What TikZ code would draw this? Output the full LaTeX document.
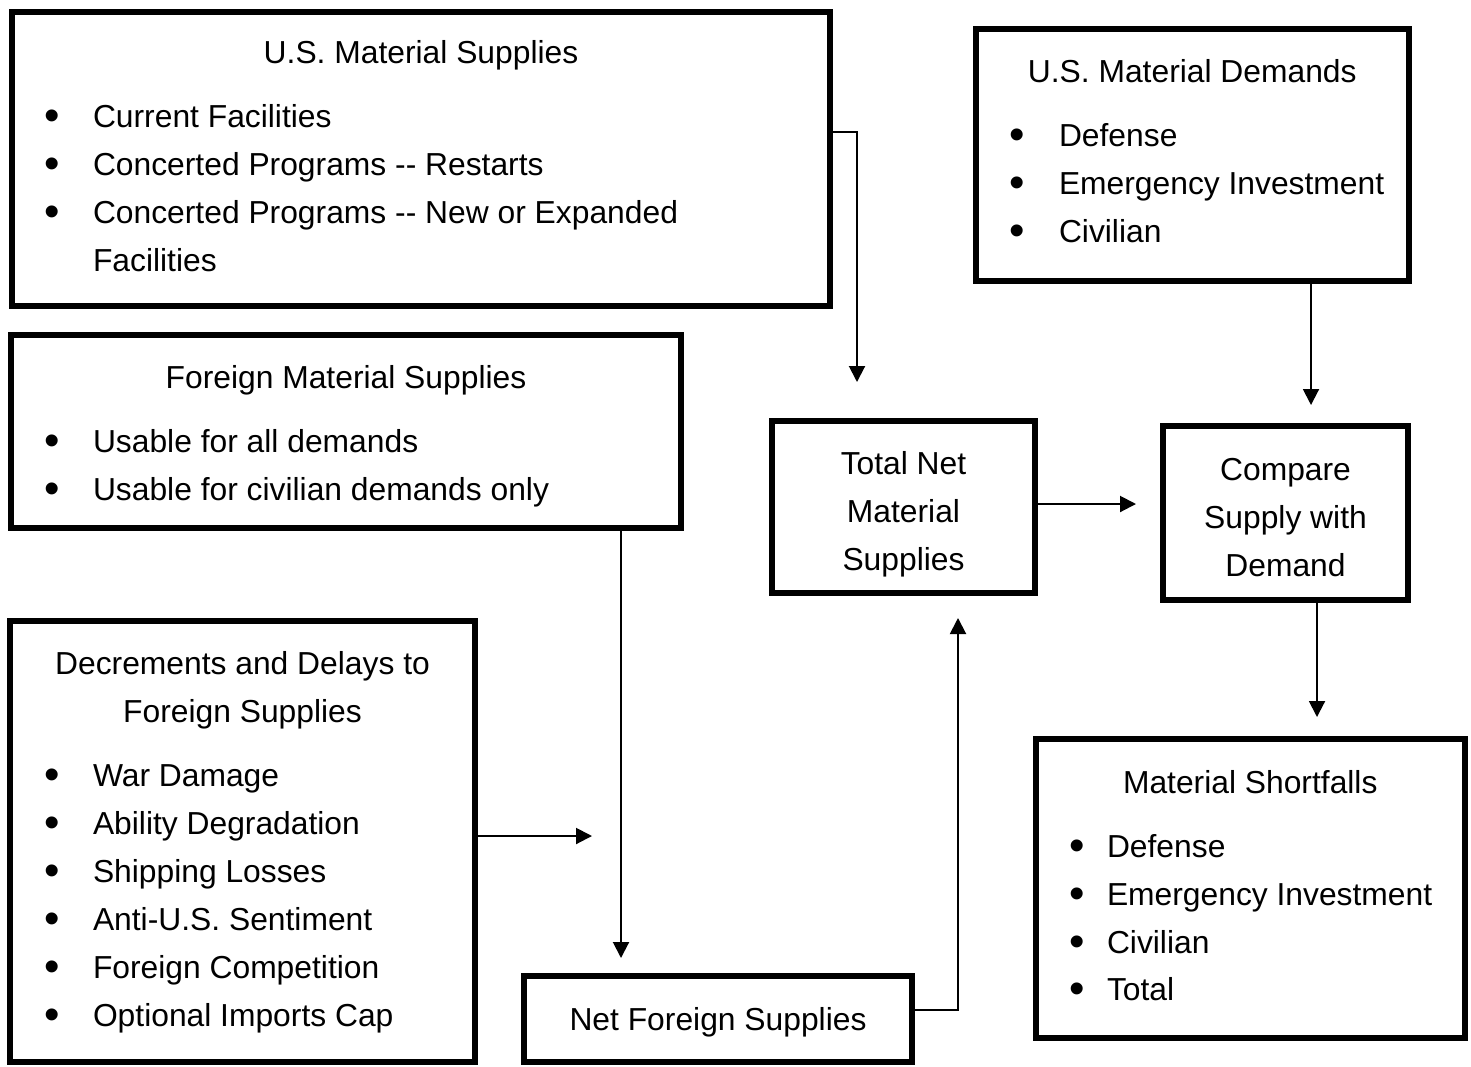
\documentclass[tikz,border=0pt]{standalone}
\usepackage{fontspec}
\setmainfont{Liberation Sans}
\usetikzlibrary{arrows.meta}
\newcommand\blt[2]{\makebox[#1][l]{\raisebox{-3.5pt}{\fontsize{44}{48}\selectfont •}}#2}
\tikzset{
  box/.style={draw, line width=6pt, inner sep=0pt, outer sep=0pt},
  txt/.style={inner sep=0pt, outer sep=0pt, anchor=base, font=\fontsize{31.8}{48}\selectfont},
  item/.style={txt, anchor=base west},
  arr/.style={line width=2pt, -{Triangle[length=16pt,width=16pt]}}
}
\begin{document}
\begin{tikzpicture}[x=1pt,y=-1pt]
\useasboundingbox (0,0) rectangle (1471,1066);
% boxes
\node[box, minimum width=818pt, minimum height=294pt] (b1) at (421,159) {};
\node[box, minimum width=670pt, minimum height=193pt] (b2) at (346,431.5) {};
\node[box, minimum width=465pt, minimum height=441pt] (b3) at (242.5,841.5) {};
\node[box, minimum width=388pt, minimum height=86pt] (b4) at (718,1019) {};
\node[box, minimum width=263pt, minimum height=172pt] (b5) at (903.5,507) {};
\node[box, minimum width=433.5pt, minimum height=251.5pt] (b6) at (1192.25,154.75) {};
\node[box, minimum width=245pt, minimum height=174pt] (b7) at (1285.5,513) {};
\node[box, minimum width=428.5pt, minimum height=299pt] (b8) at (1250.25,888.5) {};
% box 1
\node[txt] (t1) at (421,63) {U.S. Material Supplies};
\node[item] (t1a) at (44.2,127) {\blt{48.8pt}{Current Facilities}};
\node[item] (t1b) at (44.2,175) {\blt{48.8pt}{Concerted Programs -{}- Restarts}};
\node[item] (t1c) at (44.2,223) {\blt{48.8pt}{Concerted Programs -{}- New or Expanded}};
\node[item] (t1d) at (93,271) {Facilities};
% box 2
\node[txt] (t2) at (346,388) {Foreign Material Supplies};
\node[item] (t2a) at (44.2,452) {\blt{48.8pt}{Usable for all demands}};
\node[item] (t2b) at (44.2,500) {\blt{48.8pt}{Usable for civilian demands only}};
% box 3
\node[txt] (t3) at (242.5,674) {Decrements and Delays to};
\node[txt] (t3l) at (242.5,722) {Foreign Supplies};
\node[item] (t3a) at (44.2,786) {\blt{48.8pt}{War Damage}};
\node[item] (t3b) at (44.2,834) {\blt{48.8pt}{Ability Degradation}};
\node[item] (t3c) at (44.2,882) {\blt{48.8pt}{Shipping Losses}};
\node[item] (t3d) at (44.2,930) {\blt{48.8pt}{Anti-U.S. Sentiment}};
\node[item] (t3e) at (44.2,978) {\blt{48.8pt}{Foreign Competition}};
\node[item] (t3f) at (44.2,1026) {\blt{48.8pt}{Optional Imports Cap}};
% box 4
\node[txt] (t4) at (718,1030) {Net Foreign Supplies};
% box 5
\node[txt] (t5a) at (903.5,474) {Total Net};
\node[txt] (t5b) at (903.5,522) {Material};
\node[txt] (t5c) at (903.5,570) {Supplies};
% box 6
\node[txt] (t6) at (1192.25,82) {U.S. Material Demands};
\node[item] (t6a) at (1009.7,146) {\blt{49.3pt}{Defense}};
\node[item] (t6b) at (1009.7,194) {\blt{49.3pt}{Emergency Investment}};
\node[item] (t6c) at (1009.7,242) {\blt{49.3pt}{Civilian}};
% box 7
\node[txt] (t7a) at (1285.5,480) {Compare};
\node[txt] (t7b) at (1285.5,528) {Supply with};
\node[txt] (t7c) at (1285.5,576) {Demand};
% box 8
\node[txt] (t8) at (1250.25,793) {Material Shortfalls};
\node[item] (t8a) at (1069.7,857) {\blt{37.3pt}{Defense}};
\node[item] (t8b) at (1069.7,905) {\blt{37.3pt}{Emergency Investment}};
\node[item] (t8c) at (1069.7,953) {\blt{37.3pt}{Civilian}};
\node[item] (t8d) at (1069.7,1000) {\blt{37.3pt}{Total}};
% connectors
\coordinate (e1) at (857,382);
\coordinate (e2) at (621,958);
\coordinate (e3) at (592,836);
\coordinate (e4) at (958,618);
\coordinate (e5) at (1136,504);
\coordinate (e6) at (1311,405);
\coordinate (e7) at (1317,717);
\draw[arr] ([yshift=27pt]b1.east) -| (e1);
\draw[arr] (b2.south -| e2) -- (e2);
\draw[arr] (b3.east |- e3) -- (e3);
\draw[arr] ([yshift=9pt]b4.east) -| (e4);
\draw[arr] (b5.east |- e5) -- (e5);
\draw[arr] (b6.south -| e6) -- (e6);
\draw[arr] (b7.south -| e7) -- (e7);
\end{tikzpicture}
\end{document}
